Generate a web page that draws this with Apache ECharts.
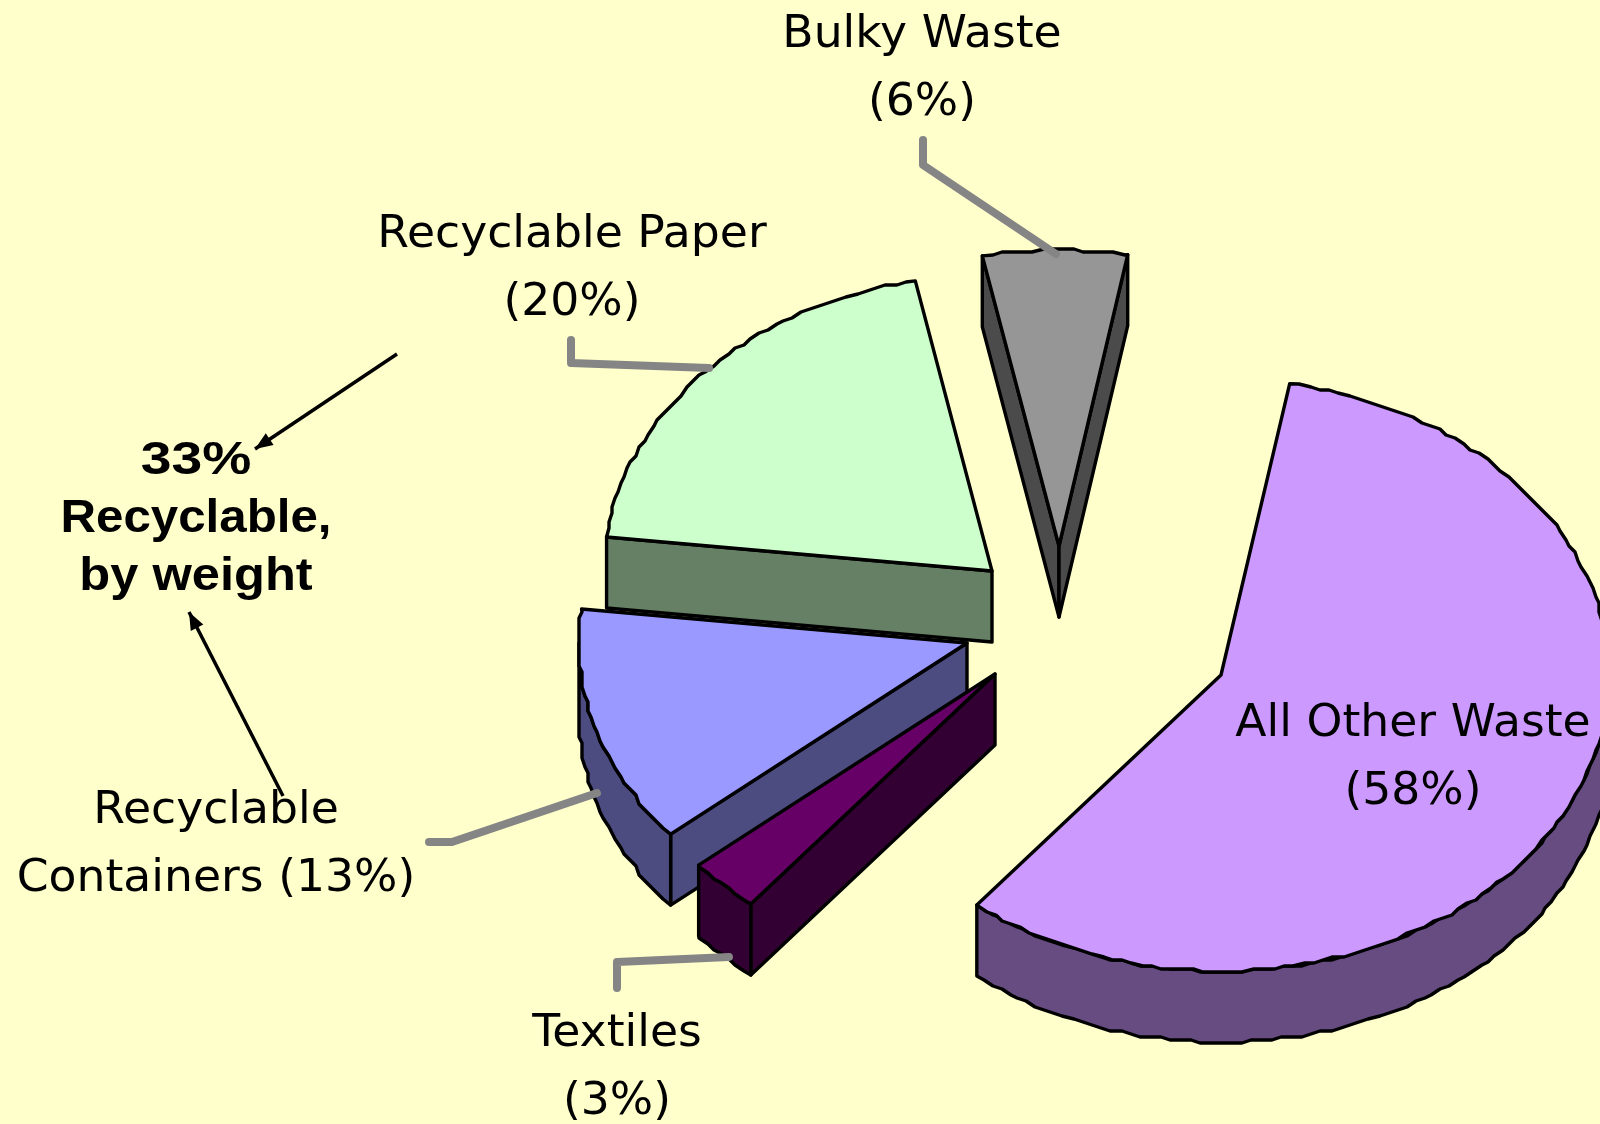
<!DOCTYPE html>
<html>
<head>
<meta charset="utf-8">
<style>
  html, body { margin: 0; padding: 0; background: #ffffcc; }
  #chart { width: 1600px; height: 1124px; }
</style>
<script src="https://cdn.jsdelivr.net/npm/echarts@6/dist/echarts.min.js"></script>
</head>
<body>
<div id="chart"></div>
<script>
// drawn back to front, walking counter-clockwise from the top of the pie
const categories = ["Bulky Waste", "Recyclable Paper", "Recyclable Containers", "Textiles", "All Other Waste"];
const shares = [6, 20, 13, 3, 58];

const topColors = ["#969696", "#ccffcc", "#9999ff", "#660066", "#cc99ff"];
const sideColors = ["#4b4b4b", "#668066", "#4c4c80", "#330033", "#664c80"];
// apex of each exploded slice, in pixels
const apexX = [1059, 992, 967, 995, 1221];
const apexY = [546, 571, 643, 674, 675];

const RX = 388;
const RY = 296;
const DEPTH = 71;
const START_DEG = 10.2; // clockwise from 12 o'clock
const ARC_STEP = 1.5;
const ARC_SNAP = 3; // the original rim is a coarse, slightly stepped outline

const startDegs = [];
let walked = START_DEG + 360;
shares.forEach((v, i) => {
  walked -= (v / 100) * 360;
  startDegs[i] = walked;
});

function rimPoint(i, deg, drop) {
  const rad = (deg * Math.PI) / 180;
  return [apexX[i] + RX * Math.sin(rad), apexY[i] - RY * Math.cos(rad) + drop];
}

function arcPoints(i, from, to, drop) {
  const pts = [rimPoint(i, from, drop)];
  for (let d = from + ARC_STEP; d < to; d += ARC_STEP) {
    const p = rimPoint(i, d, 0);
    pts.push([Math.round(p[0] / ARC_SNAP) * ARC_SNAP, Math.round(p[1] / ARC_SNAP) * ARC_SNAP + drop]);
  }
  pts.push(rimPoint(i, to, drop));
  return pts;
}

function face(points, fill) {
  return {
    type: "polygon",
    shape: { points },
    style: { fill, stroke: "#000", lineWidth: 3.4, lineJoin: "round" },
  };
}

function renderSlice(params, api) {
  const i = params.dataIndex;
  const from = startDegs[i];
  const to = from + (api.value(0) / 100) * 360;
  const apex = [apexX[i], apexY[i]];
  const apexLow = [apexX[i], apexY[i] + DEPTH];
  const side = sideColors[i];
  const children = [];

  // cut faces, only the ones turned towards the viewer
  if (Math.sin((from * Math.PI) / 180) < 0) {
    children.push(face([apex, rimPoint(i, from, 0), rimPoint(i, from, DEPTH), apexLow], side));
  }
  if (Math.sin((to * Math.PI) / 180) > 0) {
    children.push(face([apex, rimPoint(i, to, 0), rimPoint(i, to, DEPTH), apexLow], side));
  }

  // outer wall, only the front half of the rim
  const wallFrom = Math.max(from, 90);
  const wallTo = Math.min(to, 270);
  if (wallTo > wallFrom) {
    const upper = arcPoints(i, wallFrom, wallTo, 0);
    const lower = arcPoints(i, wallFrom, wallTo, DEPTH);
    children.push(face(upper.concat(lower.reverse()), side));
  }

  // top surface
  children.push(face([apex].concat(arcPoints(i, from, to, 0)), topColors[i]));

  return { type: "group", children };
}

function label(text, x, y) {
  return {
    type: "text",
    x,
    y,
    z: 20,
    scaleX: 1.015,
    style: {
      text,
      fontFamily: "DejaVu Sans",
      fontSize: 45,
      lineHeight: 68,
      fill: "#000",
      textAlign: "center",
      textVerticalAlign: "middle",
    },
  };
}

function boldLine(text, y, stretch) {
  return {
    type: "text",
    x: 196,
    y,
    z: 20,
    scaleX: stretch,
    style: {
      text,
      fontFamily: "Liberation Sans",
      fontWeight: "bold",
      fontSize: 46,
      fill: "#000",
      textAlign: "center",
      textVerticalAlign: "middle",
    },
  };
}

function leader(points) {
  return {
    type: "polyline",
    z: 15,
    shape: { points },
    style: { fill: null, stroke: "#858585", lineWidth: 8, lineCap: "round", lineJoin: "round" },
  };
}

function arrow(from, tip) {
  const ang = Math.atan2(tip[1] - from[1], tip[0] - from[0]);
  const wing = (off) => [tip[0] - 19 * Math.cos(ang + off), tip[1] - 19 * Math.sin(ang + off)];
  return [
    {
      type: "line",
      z: 25,
      shape: { x1: from[0], y1: from[1], x2: tip[0], y2: tip[1] },
      style: { stroke: "#000", lineWidth: 3.5 },
    },
    {
      type: "polygon",
      z: 25,
      shape: { points: [tip, wing(0.38), wing(-0.38)] },
      style: { fill: "#000" },
    },
  ];
}

const chart = echarts.init(document.getElementById("chart"));
chart.setOption({
  animation: false,
  backgroundColor: "#ffffcc",
  series: [
    {
      type: "custom",
      coordinateSystem: "none",
      silent: true,
      renderItem: renderSlice,
      data: shares.map((v, i) => ({ name: categories[i], value: [v] })),
    },
  ],
  graphic: {
    elements: [
      leader([[923, 140], [923, 165], [1056, 254]]),
      leader([[571, 340], [571, 363], [709, 368]]),
      leader([[429, 842], [452, 842], [597, 793]]),
      leader([[617, 988], [617, 962], [729, 957]]),
      label("Bulky Waste\n(6%)", 922, 69),
      label("Recyclable Paper\n(20%)", 572, 269),
      label("Recyclable\nContainers (13%)", 216, 845),
      label("Textiles\n(3%)", 617, 1068),
      label("All Other Waste\n(58%)", 1413, 758),
      boldLine("33%", 461, 1.2),
      boldLine("Recyclable,", 519, 1.07),
      boldLine("by weight", 577, 1.1),
      ...arrow([397, 354], [255, 449]),
      ...arrow([283, 796], [189, 612]),
    ],
  },
});
</script>
</body>
</html>
